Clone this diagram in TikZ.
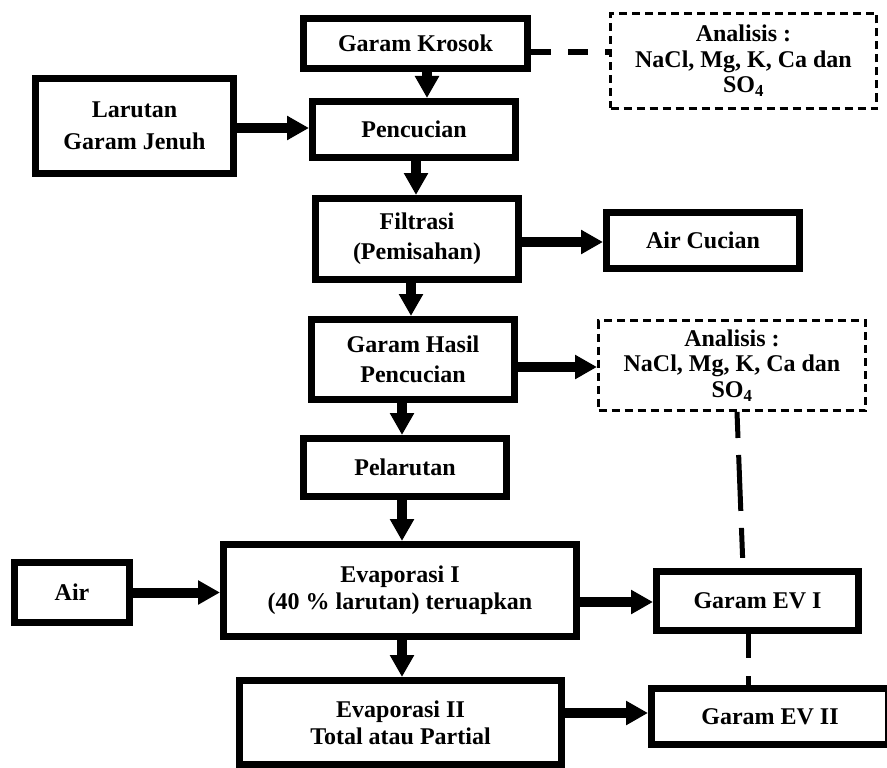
\documentclass[tikz,border=0pt]{standalone}
\usepackage{fontspec}
\setmainfont{Liberation Serif}
\usetikzlibrary{arrows.meta}
\tikzset{stage/.style={draw, line width=7pt, inner sep=0pt, align=center,
    font=\fontsize{24}{30}\selectfont\bfseries},
  probe/.style={draw, line width=3pt, dash pattern=on 8pt off 5pt, inner sep=0pt,
    align=center, font=\fontsize{24}{25.5}\selectfont\bfseries},
  flow/.style={line width=10pt, -{Triangle[length=22pt,width=23pt]}},
  link/.style={line width=6pt}}

\begin{document}
\begin{tikzpicture}[x=1pt,y=-1pt]
    \useasboundingbox (0,0) rectangle (887,768);
    \clip (0,0) rectangle (887,768);
    % boxes
    \node[stage, minimum width=224, minimum height=50] (krosok) at (415.5,43.5) {Garam Krosok};
    \node[probe, minimum width=266, minimum height=95] (analisis1) at (743.5,61) {Analisis :\\NaCl, Mg, K, Ca dan\\SO\textsubscript{4}};
    \node[stage, minimum width=198, minimum height=95, font=\fontsize{24}{32}\selectfont\bfseries] (larutan) at (134.5,126) {Larutan\\Garam Jenuh};
    \node[stage, minimum width=203, minimum height=56] (pencucian) at (414,129.5) {Pencucian};
    \node[stage, minimum width=203, minimum height=81] (filtrasi) at (417,239) {Filtrasi\\(Pemisahan)};
    \node[stage, minimum width=193, minimum height=56] (aircucian) at (703,240.5) {Air Cucian};
    \node[stage, minimum width=203, minimum height=80] (garamhasil) at (413,359.5) {Garam Hasil\\Pencucian};
    \node[probe, minimum width=267, minimum height=90] (analisis2) at (732,365.5) {Analisis :\\NaCl, Mg, K, Ca dan\\SO\textsubscript{4}};
    \node[stage, minimum width=203, minimum height=58] (pelarutan) at (405,467.5) {Pelarutan};
    \node[stage, minimum width=353, minimum height=92, font=\fontsize{24}{27}\selectfont\bfseries] (evap1) at (400,590.5) {Evaporasi I\\(40 \% larutan) teruapkan};
    \node[stage, minimum width=115, minimum height=60] (air) at (72,592.5) {Air};
    \node[stage, minimum width=202, minimum height=59] (ev1) at (757.5,601) {Garam EV I};
    \node[stage, minimum width=322, minimum height=84, font=\fontsize{24}{27}\selectfont\bfseries] (evap2) at (400.5,722.5) {Evaporasi II\\Total atau Partial};
    \node[stage, minimum width=237, minimum height=56] (ev2) at (770,716.5) {Garam EV II};
    % flow arrows
    \draw[flow] ([xshift=11.5pt]krosok.south) -- ([xshift=11.5pt]krosok.south |- pencucian.north);
    \draw[flow] ([yshift=-2pt]larutan.east) -- ([yshift=-2pt]larutan.east -| pencucian.west);
    \draw[flow] ([xshift=2pt]pencucian.south) -- ([xshift=2pt]pencucian.south |- filtrasi.north);
    \draw[flow] ([yshift=-3pt]filtrasi.east) -- ([yshift=-3pt]filtrasi.east -| aircucian.west);
    \draw[flow] ([xshift=-6pt]filtrasi.south) -- ([xshift=-6pt]filtrasi.south |- garamhasil.north);
    \draw[flow] ([yshift=-7.5pt]garamhasil.east) -- ([yshift=-7.5pt]garamhasil.east -| analisis2.west);
    \draw[flow] ([xshift=-11pt]garamhasil.south) -- ([xshift=-11pt]garamhasil.south |- pelarutan.north);
    \draw[flow] ([xshift=-3pt]pelarutan.south) -- ([xshift=-3pt]pelarutan.south |- evap1.north);
    \draw[flow] (air.east) -- (air.east -| evap1.west);
    \draw[flow] ([yshift=-11.5pt]evap1.east) -- ([yshift=-11.5pt]evap1.east -| ev1.west);
    \draw[flow] ([xshift=2pt]evap1.south) -- ([xshift=2pt]evap1.south |- evap2.north);
    \draw[flow] ([yshift=9.5pt]evap2.east) -- ([yshift=9.5pt]evap2.east -| ev2.west);
    % dashed links to analisis
    \draw[link, dash pattern=on 20pt off 17pt] ([yshift=-8.5pt]krosok.east) -- ([yshift=-8.5pt]krosok.east -| analisis1.west);
    \draw[line width=5pt, dash pattern=on 26pt off 17pt on 56pt off 17pt on 30pt off 20pt] ([xshift=5pt]analisis2.south) -- ([xshift=-14.5pt]ev1.north);
    \draw[line width=5pt, dash pattern=on 24pt off 18pt on 30pt off 10pt] ([xshift=-9.5pt]ev1.south) -- ([xshift=-9.5pt,yshift=-5pt]ev1.south |- ev2.north);
\end{tikzpicture}
\end{document}
